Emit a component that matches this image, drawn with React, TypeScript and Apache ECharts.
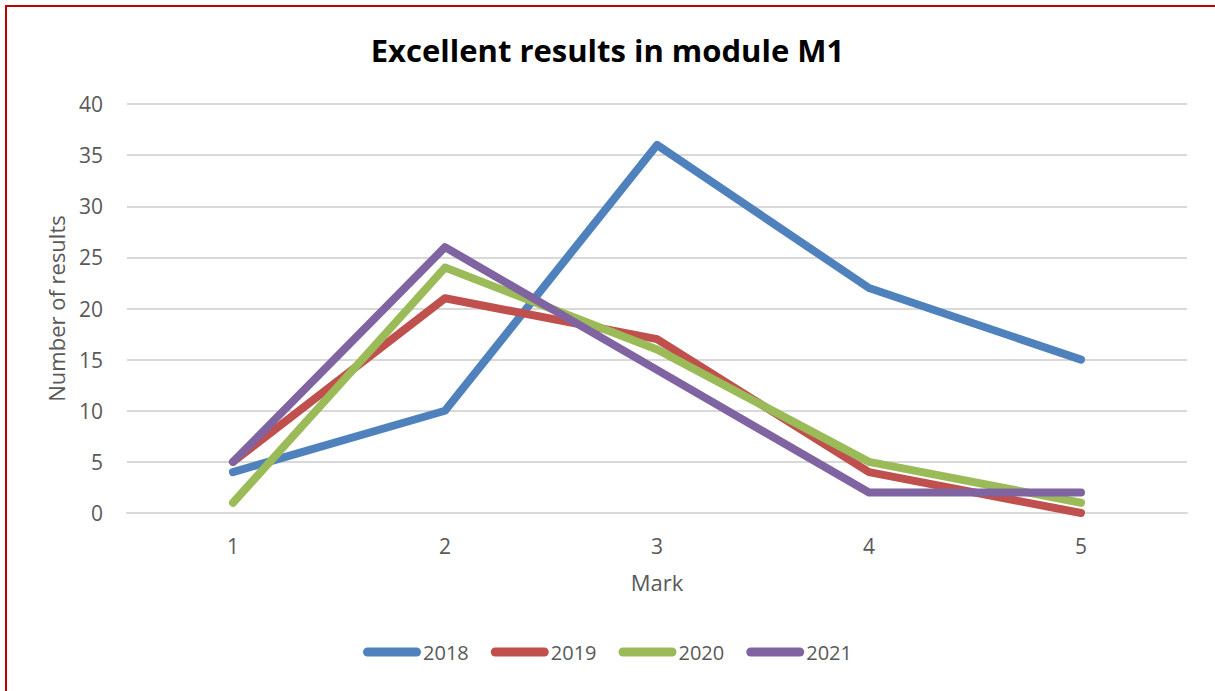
import React, { useEffect, useRef } from "react";
import * as echarts from "echarts";

const categories = ["1", "2", "3", "4", "5"];
const seriesNames = ["2018", "2019", "2020", "2021"];
const values2018 = [4, 10, 36, 22, 15];
const values2019 = [5, 21, 17, 4, 0];
const values2020 = [1, 24, 16, 5, 1];
const values2021 = [5, 26, 14, 2, 2];
const colors = ["#4F81BD", "#C0504D", "#9BBB59", "#8064A2"];
const yTicks = { min: 0, max: 40, interval: 5 };

const FONT = "'Open Sans', 'Noto Sans', sans-serif";

export default function App() {
  const ref = useRef<HTMLDivElement>(null);
  useEffect(() => {
    document.body.style.margin = "0";
    const chart = echarts.init(ref.current!, null, { renderer: "svg" });
    const allValues = [values2018, values2019, values2020, values2021];
    chart.setOption({
      animation: false,
      backgroundColor: "#ffffff",
      title: {
        text: "Excellent results in module M1",
        left: "center",
        top: 29,
        textStyle: { fontFamily: FONT, fontWeight: "bold", fontSize: 31, color: "#000000" },
      },
      graphic: [
        {
          type: "rect",
          shape: { x: 6, y: 6, width: 1240, height: 720 },
          style: { fill: "none", stroke: "#C00000", lineWidth: 2 },
          silent: true,
        },
      ],
      legend: {
        bottom: 24,
        left: "center",
        itemWidth: 58,
        itemHeight: 9,
        itemGap: 22,
        icon: "path://M4.5,0 H53.5 A4.5,4.5 0 0 1 53.5,9 H4.5 A4.5,4.5 0 0 1 4.5,0 Z",
        textStyle: { fontFamily: FONT, fontSize: 20, color: "#595959", padding: [0, 0, 0, -3] },
        data: seriesNames,
      },
      grid: { left: 127, right: 28, top: 104, bottom: 178, containLabel: false },
      xAxis: {
        type: "category",
        data: categories,
        boundaryGap: true,
        name: "Mark",
        nameLocation: "middle",
        nameGap: 58,
        nameTextStyle: { fontFamily: FONT, fontSize: 22, color: "#595959" },
        axisLine: { show: true, lineStyle: { color: "#D9D9D9", width: 2 } },
        axisTick: { show: false },
        axisLabel: { fontFamily: FONT, fontSize: 21, color: "#595959", margin: 22 },
      },
      yAxis: {
        type: "value",
        min: yTicks.min,
        max: yTicks.max,
        interval: yTicks.interval,
        name: "Number of results",
        nameLocation: "middle",
        nameGap: 60,
        nameTextStyle: { fontFamily: FONT, fontSize: 22, color: "#595959" },
        axisLine: { show: false },
        axisTick: { show: false },
        axisLabel: { fontFamily: FONT, fontSize: 21, color: "#595959", margin: 24 },
        splitLine: { lineStyle: { color: "#D9D9D9", width: 2 } },
      },
      series: seriesNames.map((name, i) => ({
        name,
        type: "line",
        data: allValues[i],
        showSymbol: false,
        symbol: "none",
        color: colors[i],
        lineStyle: { width: 8, color: colors[i], cap: "round", join: "round" },
      })),
    });
    return () => chart.dispose();
  }, []);
  return <div ref={ref} style={{ width: 1215, height: 691 }} />;
}
